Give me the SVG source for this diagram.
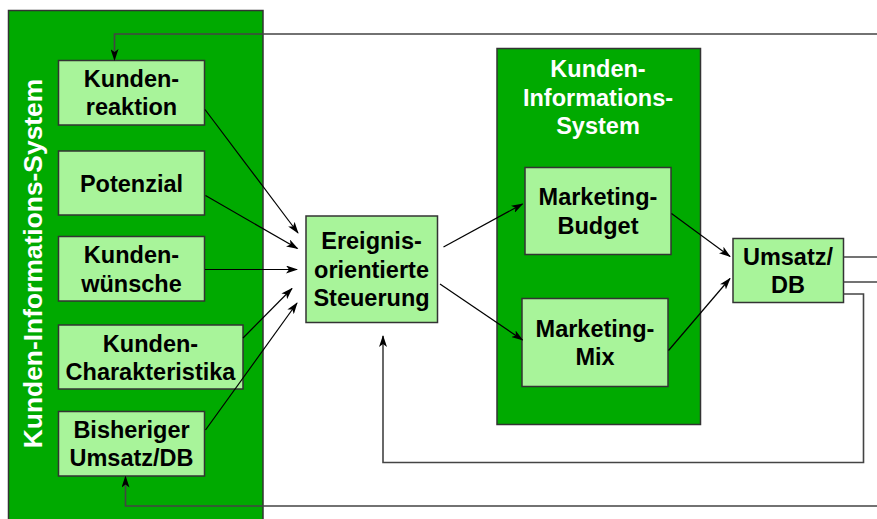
<svg xmlns="http://www.w3.org/2000/svg" width="877" height="519" viewBox="0 0 877 519">
  <style>
    .sys { fill: #00aa00; stroke: #333; stroke-width: 1.5; }
    .box { fill: #a8f49a; stroke: #333; stroke-width: 1.5; }
    .lbl { font-family: "Liberation Sans", Arial, sans-serif; font-weight: bold; font-size: 23.5px; fill: #000; text-anchor: middle; }
    .wlbl { font-family: "Liberation Sans", Arial, sans-serif; font-weight: bold; font-size: 23.5px; fill: #fff; text-anchor: middle; }
    .arr { fill: none; stroke: #000; stroke-width: 1.2; marker-end: url(#ah); }
    .fb { fill: none; stroke: #444; stroke-width: 1.6; }
    .fba { fill: none; stroke: #444; stroke-width: 1.6; marker-end: url(#ah); }
  </style>
  <defs>
    <marker id="ah" viewBox="0 0 12 8" refX="11" refY="4" markerWidth="12" markerHeight="8" markerUnits="userSpaceOnUse" orient="auto">
      <path d="M0,0 L12,4 L0,8 L3,4 Z" fill="#000"/>
    </marker>
  </defs>

  <rect width="877" height="519" fill="#fff"/>

  <!-- left system frame -->
  <g id="kis-left">
    <rect class="sys" x="8.5" y="10.5" width="254.5" height="515"/>
    <text class="wlbl" font-size="26.4" style="font-size:26.4px" transform="translate(42,263.5) rotate(-90)">Kunden-Informations-System</text>
  </g>

  <!-- right system frame -->
  <g id="kis-right">
    <rect class="sys" x="497" y="48.5" width="203.5" height="376"/>
    <text class="wlbl" x="598" y="77">Kunden-</text>
    <text class="wlbl" x="598" y="105.5">Informations-</text>
    <text class="wlbl" x="598" y="134">System</text>
  </g>

  <g id="kundenreaktion">
    <rect class="box" x="58.5" y="60.5" width="146" height="64.5"/>
    <text class="lbl" x="131.5" y="87">Kunden-</text>
    <text class="lbl" x="131.5" y="115">reaktion</text>
  </g>
  <g id="potenzial">
    <rect class="box" x="58.5" y="151" width="146" height="64"/>
    <text class="lbl" x="131.5" y="191.5">Potenzial</text>
  </g>
  <g id="kundenwuensche">
    <rect class="box" x="58.5" y="236.5" width="146" height="64.5"/>
    <text class="lbl" x="131.5" y="263">Kunden-</text>
    <text class="lbl" x="131.5" y="291.5">wünsche</text>
  </g>
  <g id="kundencharakteristika">
    <rect class="box" x="58.5" y="325" width="184.5" height="64"/>
    <text class="lbl" x="150.5" y="351.5">Kunden-</text>
    <text class="lbl" x="150.5" y="379.5">Charakteristika</text>
  </g>
  <g id="bisheriger-umsatz">
    <rect class="box" x="58.5" y="411.5" width="146" height="64.5"/>
    <text class="lbl" x="131.5" y="438">Bisheriger</text>
    <text class="lbl" x="131.5" y="466">Umsatz/DB</text>
  </g>
  <g id="steuerung">
    <rect class="box" x="306" y="216" width="131.5" height="106.5"/>
    <text class="lbl" x="371.5" y="249">Ereignis-</text>
    <text class="lbl" x="371.5" y="277.5">orientierte</text>
    <text class="lbl" x="371.5" y="305.5">Steuerung</text>
  </g>
  <g id="marketing-budget">
    <rect class="box" x="525" y="167.5" width="146" height="87"/>
    <text class="lbl" x="598" y="205">Marketing-</text>
    <text class="lbl" x="598" y="233.5">Budget</text>
  </g>
  <g id="marketing-mix">
    <rect class="box" x="522" y="298.5" width="146" height="88"/>
    <text class="lbl" x="595" y="337">Marketing-</text>
    <text class="lbl" x="595" y="365">Mix</text>
  </g>
  <g id="umsatz-db">
    <rect class="box" x="733" y="238.5" width="110.5" height="64"/>
    <text class="lbl" x="788" y="264.5">Umsatz/</text>
    <text class="lbl" x="788" y="293">DB</text>
  </g>

  <g id="connectors">
    <!-- inputs to the event-driven control -->
    <line class="arr" x1="205" y1="109.5" x2="298" y2="233"/>
    <line class="arr" x1="205.5" y1="195.5" x2="297.5" y2="248.5"/>
    <line class="arr" x1="205" y1="269.5" x2="297" y2="269.5"/>
    <line class="arr" x1="243" y1="338" x2="292" y2="288.5"/>
    <line class="arr" x1="205.5" y1="430" x2="297" y2="303"/>
    <!-- control to marketing -->
    <line class="arr" x1="443.5" y1="247" x2="522.5" y2="204"/>
    <line class="arr" x1="440" y1="284" x2="522.5" y2="340"/>
    <!-- marketing to revenue -->
    <line class="arr" x1="671.5" y1="213.5" x2="730" y2="256.5"/>
    <line class="arr" x1="668.5" y1="350.5" x2="730" y2="278.5"/>
    <!-- feedback loops -->
    <line class="fb" x1="843.5" y1="257" x2="877" y2="257"/>
    <line class="fb" x1="843.5" y1="282" x2="877" y2="282"/>
    <polyline class="fba" points="877,34 114.5,34 114.5,60"/>
    <polyline class="fba" points="877,506 125.5,506 125.5,476.5"/>
    <polyline class="fba" points="843.5,294 863.5,294 863.5,462.5 383,462.5 383,336"/>
  </g>
</svg>
